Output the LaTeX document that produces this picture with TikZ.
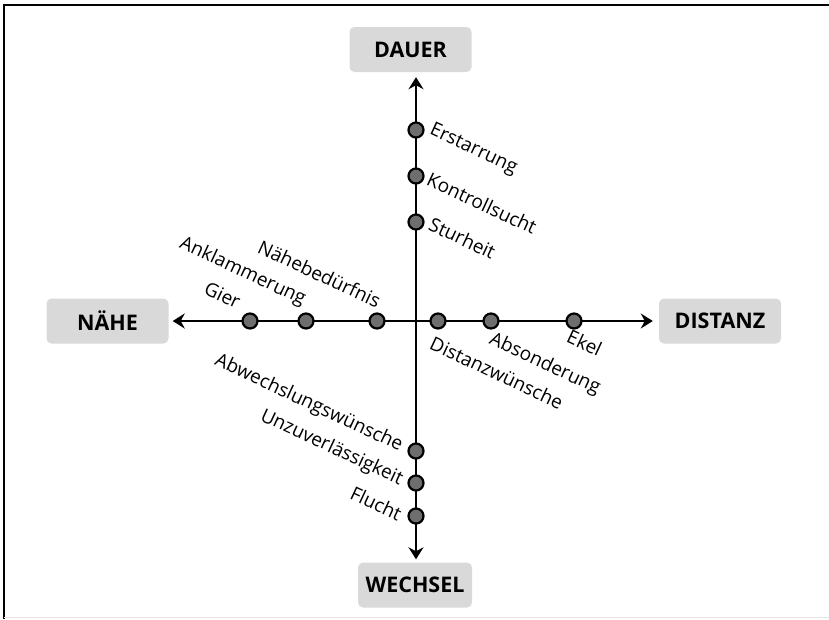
\documentclass[tikz,border=0pt]{standalone}
\usepackage{fontspec}
\setmainfont{Open Sans}
\usetikzlibrary{arrows.meta}
\definecolor{szaryboks}{HTML}{D9D9D9}
\definecolor{szarypunkt}{HTML}{6E6E6E}

\begin{document}
\begin{tikzpicture}[
			x=1pt, y=-1pt, %jednostka = piksel, os y w dol
			biegun/.style = {fill=szaryboks, rounded corners=5pt, minimum width=122pt, minimum height=45pt, font=\bfseries\fontsize{21.5}{25}\selectfont},
			punkt/.style = {circle, draw, line width=2.2pt, fill=szarypunkt, minimum size=15pt, inner sep=0pt},
			opis/.style = {rotate=-25, inner sep=1pt, font=\fontsize{19}{23}\selectfont},
			os/.style = {line width=2.6pt, {Stealth[length=12pt,width=15pt,inset=4pt]}-{Stealth[length=12pt,width=15pt,inset=4pt]}}
			]
			\useasboundingbox (0,0) rectangle (829,619);
			% ramka zrzutu
			\draw[line width=1.6pt] (4,619) -- (4,5) -- (829,5);
			\draw[black!10, line width=1pt] (4,617) -- (829,617);
			
			% bieguny
			\node[biegun] (dauer) at (410.5,49.5) {DAUER};
			\node[biegun] (naehe) at (107.5,321) {NÄHE};
			\node[biegun] (distanz) at (720,321) {DISTANZ};
			\node[biegun, minimum width=114pt] (wechsel) at (415,585) {WECHSEL};
			\coordinate (srodek) at (416,321);
			
			% osie
			\draw[os, shorten <=3pt, shorten >=5pt] (wechsel.north -| srodek) -- (dauer.south -| srodek);
			\draw[os, shorten <=4pt, shorten >=6pt] (naehe.east) -- (distanz.west);
			
			% punkty na osiach
			\node[punkt] (erstarrung) at (416,130) {};
			\node[punkt] (kontrolle) at (416,176) {};
			\node[punkt] (sturheit) at (416,222) {};
			\node[punkt] (gier) at (250,321) {};
			\node[punkt] (anklammerung) at (306,321) {};
			\node[punkt] (naehebed) at (377,321) {};
			\node[punkt] (distanzw) at (438,321) {};
			\node[punkt] (absonderung) at (491,321) {};
			\node[punkt] (ekel) at (574,321) {};
			\node[punkt] (abwechslung) at (416,451) {};
			\node[punkt] (unzuverl) at (416,483) {};
			\node[punkt] (flucht) at (416,516) {};
			
			% opisy
			\node[opis, anchor=north west] (t-erstarrung) at (434,120) {Erstarrung};
			\node[opis, anchor=north west] (t-kontrolle) at (431,170) {Kontrollsucht};
			\node[opis, anchor=north west] (t-sturheit) at (433,215) {Sturheit};
			\node[opis, anchor=south east] (t-gier) at (237,311) {Gier};
			\node[opis, anchor=south east] (t-anklammerung) at (301,311) {Anklammerung};
			\node[opis, anchor=south east] (t-naehebed) at (377,310) {Nähebedürfnis};
			\node[opis, anchor=north west] (t-distanzw) at (434,334) {Distanzwünsche};
			\node[opis, anchor=north west] (t-absonderung) at (494,329) {Absonderung};
			\node[opis, anchor=north west] (t-ekel) at (571,327) {Ekel};
			\node[opis, anchor=south east] (t-abwechslung) at (398,457) {Abwechslungswünsche};
			\node[opis, anchor=south east] (t-unzuverl) at (398,491) {Unzuverlässigkeit};
			\node[opis, anchor=south east] (t-flucht) at (398,523) {Flucht};
			\end{tikzpicture}
\end{document}
